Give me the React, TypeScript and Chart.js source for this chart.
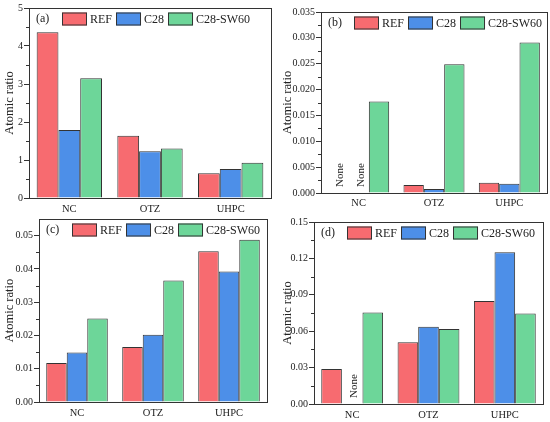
import { useEffect, useRef } from 'react';
import { Chart, registerables } from 'chart.js';

Chart.register(...registerables);

const categories = ['NC', 'OTZ', 'UHPC'];
const seriesNames = ['REF', 'C28', 'C28-SW60'];
const seriesColors = ['#f76b70', '#4d8fe8', '#6dd699'];

// (a)
const aRef = [4.36, 1.64, 0.65];
const aC28 = [1.79, 1.23, 0.76];
const aSW60 = [3.15, 1.3, 0.93];
// (b) — null = "None"
const bRef = [null, 0.00155, 0.002];
const bC28 = [null, 0.00077, 0.0018];
const bSW60 = [0.0177, 0.0249, 0.0291];
// (c)
const cRef = [0.0117, 0.0165, 0.0453];
const cC28 = [0.0149, 0.0202, 0.0392];
const cSW60 = [0.0251, 0.0365, 0.0488];
// (d)
const dRef = [0.0289, 0.0509, 0.0848];
const dC28 = [null, 0.0636, 0.125];
const dSW60 = [0.0754, 0.0619, 0.0746];

const FONT = '"Liberation Serif", "Times New Roman", serif';
const INK = '#222';
const AXIS = '#333';

interface PanelProps {
  tag: string;
  values: (number | null)[][];
  yMax: number;
  yStep: number;
  digits: number;
  box: [number, number, number, number];
  pad: { left: number; right: number; top: number; bottom: number };
  yWidth: number;
  xHeight: number;
  xPad: number;
}

function Panel({ tag, values, yMax, yStep, digits, box, pad, yWidth, xHeight, xPad }: PanelProps) {
  const ref = useRef<HTMLCanvasElement>(null);

  useEffect(() => {
    if (!ref.current) return;

    const decor = {
      id: 'decor',
      afterDatasetsDraw(chart: any) {
        const { ctx, chartArea: a } = chart;
        const ys = chart.scales.y;
        ctx.save();
        ctx.strokeStyle = AXIS;
        ctx.lineWidth = 1;
        ctx.strokeRect(Math.round(a.left) + 0.5, Math.round(a.top) + 0.5, Math.round(a.right - a.left), Math.round(a.bottom - a.top));

        // minor ticks
        ctx.beginPath();
        for (let k = 0; (k + 0.5) * yStep < yMax - 1e-9; k++) {
          const py = Math.round(ys.getPixelForValue((k + 0.5) * yStep)) + 0.5;
          ctx.moveTo(a.left - 3, py);
          ctx.lineTo(a.left, py);
        }
        ctx.stroke();

        // "None" for missing values
        ctx.fillStyle = INK;
        ctx.font = `11px ${FONT}`;
        ctx.textAlign = 'left';
        ctx.textBaseline = 'middle';
        values.forEach((series, i) => {
          const meta = chart.getDatasetMeta(i);
          series.forEach((v, j) => {
            if (v !== null) return;
            const bx = meta.data[j]?.x;
            if (!Number.isFinite(bx)) return;
            ctx.save();
            ctx.translate(bx + 2, a.bottom - 6);
            ctx.rotate(-Math.PI / 2);
            ctx.fillText('None', 0, 0);
            ctx.restore();
          });
        });

        // legend inside plot
        ctx.font = `12px ${FONT}`;
        ctx.textBaseline = 'middle';
        const cy = a.top + 11;
        ctx.fillText(tag, a.left + 7, cy);
        let x = a.left + 33;
        seriesNames.forEach((name, i) => {
          ctx.fillStyle = seriesColors[i];
          ctx.fillRect(x, cy - 6.5, 25, 13);
          ctx.strokeStyle = AXIS;
          ctx.strokeRect(x + 0.5, cy - 6, 24, 12);
          ctx.fillStyle = INK;
          ctx.fillText(name, x + 28, cy + 0.5);
          x += 28 + ctx.measureText(name).width + 4;
        });
        ctx.restore();
      },
    };

    const chart = new Chart(ref.current, {
      type: 'bar',
      data: {
        labels: categories,
        datasets: values.map((data, i) => ({
          label: seriesNames[i],
          data,
          backgroundColor: seriesColors[i],
          borderColor: AXIS,
          borderWidth: 1,
          categoryPercentage: 0.81,
          barPercentage: 1,
        })),
      },
      options: {
        animation: false,
        responsive: true,
        maintainAspectRatio: false,
        layout: { padding: pad },
        plugins: { legend: { display: false }, tooltip: { enabled: false } },
        scales: {
          x: {
            grid: { display: false, drawTicks: false },
            border: { display: false },
            ticks: { color: INK, font: { family: FONT, size: 10.5 }, padding: xPad },
            afterFit: (s: any) => { s.height = xHeight; },
          },
          y: {
            min: 0,
            max: yMax,
            grid: { drawOnChartArea: false, tickLength: 5, color: AXIS },
            border: { display: false },
            ticks: {
              stepSize: yStep,
              color: INK,
              font: { family: FONT, size: 10 },
              padding: 1,
              callback: (v: any) => Number(v).toFixed(digits),
            },
            title: { display: true, text: 'Atomic ratio', color: INK, font: { family: FONT, size: 12.5 }, padding: 0 },
            afterBuildTicks: (s: any) => {
              s.ticks = s.ticks.filter((t: any) => Math.abs(t.value / yStep - Math.round(t.value / yStep)) < 1e-6);
            },
            afterFit: (s: any) => { s.width = yWidth; },
          },
        },
      },
      plugins: [decor],
    });
    return () => { chart.destroy(); };
  }, []);

  return (
    <div style={{ position: 'absolute', left: box[0], top: box[1], width: box[2], height: box[3] }}>
      <canvas ref={ref} />
    </div>
  );
}

export default function App() {
  return (
    <div style={{ position: 'absolute', left: 0, top: 0, width: 550, height: 422, background: '#fff' }}>
      <Panel tag="(a)" values={[aRef, aC28, aSW60]} yMax={5} yStep={1} digits={0}
        box={[0, 0, 275, 222]} pad={{ left: 2, right: 4, top: 8, bottom: 4 }} yWidth={27} xHeight={20} xPad={5} />
      <Panel tag="(b)" values={[bRef, bC28, bSW60]} yMax={0.035} yStep={0.005} digits={3}
        box={[275, 0, 275, 222]} pad={{ left: 5, right: 3, top: 12, bottom: 9 }} yWidth={41} xHeight={20} xPad={4} />
      <Panel tag="(c)" values={[cRef, cC28, cSW60]} yMax={0.055} yStep={0.01} digits={2}
        box={[0, 212, 275, 210]} pad={{ left: 2, right: 8, top: 6, bottom: 0 }} yWidth={37} xHeight={20} xPad={5} />
      <Panel tag="(d)" values={[dRef, dC28, dSW60]} yMax={0.15} yStep={0.03} digits={2}
        box={[275, 212, 275, 210]} pad={{ left: 5, right: 7, top: 10, bottom: 0 }} yWidth={34} xHeight={18} xPad={5} />
    </div>
  );
}
